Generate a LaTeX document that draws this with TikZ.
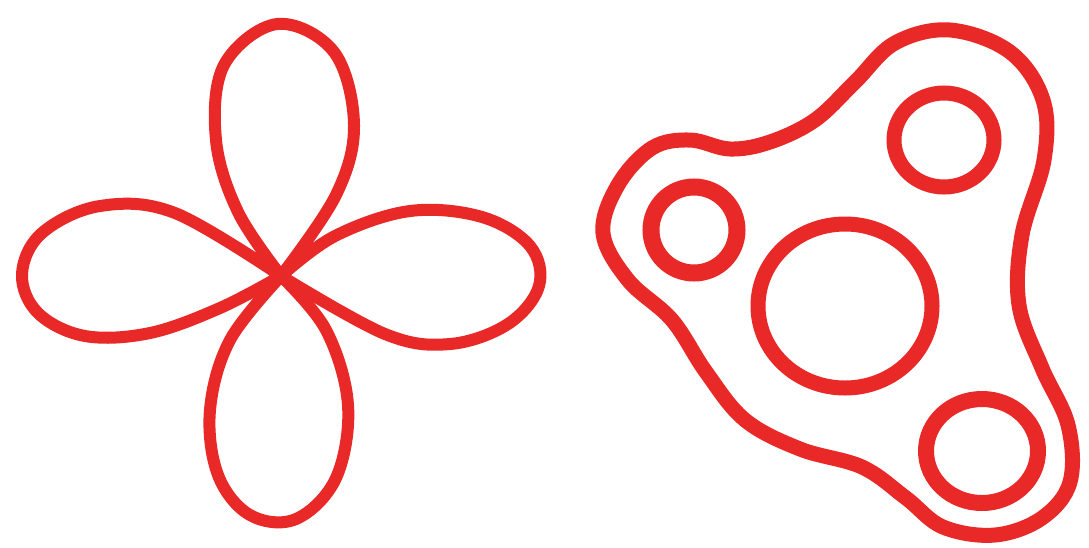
\documentclass[tikz,border=0pt]{standalone}
\definecolor{ink}{RGB}{233,40,40}
\tikzset{
  petal/.style={draw=ink, line width=12pt, line cap=round, line join=round},
  blobline/.style={draw=ink, line width=15pt, line join=round},
  ring/.style={draw=ink, line width=15pt},
}
\begin{document}
\begin{tikzpicture}[x=1pt,y=-1pt]
\useasboundingbox (0,0) rectangle (1089,547);
\fill[white] (0,0) rectangle (1089,547);
% ---- four-petal flower ----
\coordinate (C) at (281,276);
% top petal
\draw[petal] plot[smooth, tension=0.6] coordinates {(281,276) (238,212) (216,140) (224,65) (277,24) (334,52) (354,125) (336,195) (281,276)};
% right petal
\draw[petal] plot[smooth, tension=0.6] coordinates {(281,276) (335,236) (410,211) (482,217) (530,246) (539,286) (508,324) (450,344) (385,334) (281,276)};
% bottom petal
\draw[petal] plot[smooth, tension=0.6] coordinates {(281,276) (326,330) (348,405) (336,478) (296,519) (250,515) (218,475) (210,410) (230,340) (281,276)};
% left petal
\draw[petal] plot[smooth, tension=0.6] coordinates {(281,276) (220,308) (150,333) (85,336) (38,313) (22,274) (42,233) (100,206) (175,213) (281,276)};
% ---- blob with rings ----
\draw[blobline] plot[smooth cycle, tension=0.6] coordinates {(603,233) (628,280) (672,320) (706,372) (745,420) (800,449) (862,467) (906,498) (943,527) (995,535) (1042,518) (1070,482) (1068,425) (1042,368) (1019,305) (1022,235) (1044,160) (1043,100) (1010,52) (950,30) (895,43) (855,82) (815,120) (770,142) (730,149) (690,140) (652,148) (618,185)};
\draw[ring, line width=17pt] (694,230) circle[radius=43pt];
\draw[ring] (944,140) ellipse[x radius=50pt, y radius=47pt];
\draw[ring] (845,306) ellipse[x radius=87pt, y radius=82pt];
\draw[ring, line width=16pt] (982,451) ellipse[x radius=56pt, y radius=52pt];
\end{tikzpicture}
\end{document}
